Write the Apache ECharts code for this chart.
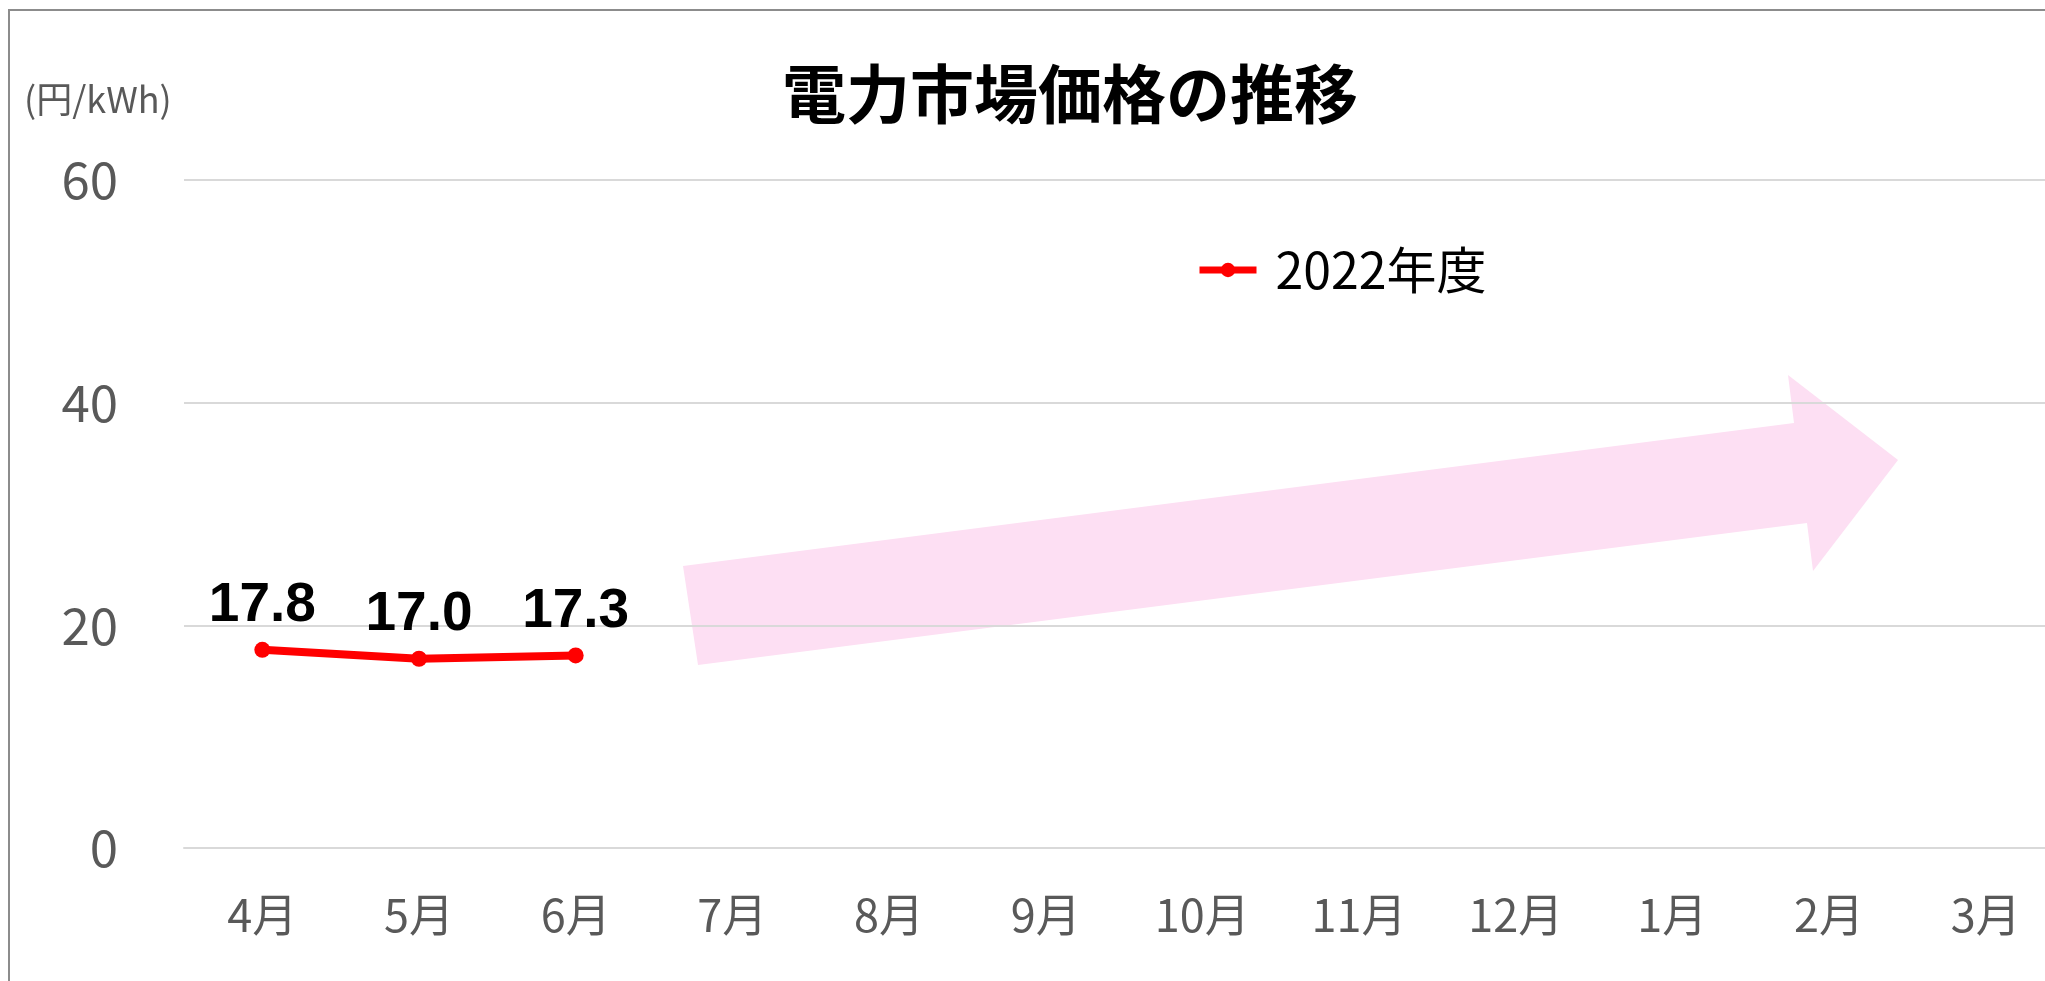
<!DOCTYPE html>
<html>
<head>
  <meta charset="utf-8" />
  <title>電力市場価格の推移</title>
  <script src="https://cdn.jsdelivr.net/npm/echarts@6/dist/echarts.min.js"></script>
  <style>
    html, body {
      margin: 0;
      padding: 0;
      background: #fff;
      overflow: hidden;
    }

    /* グラフは右端で切れているので、窓より広く描く */
    #main {
      width: 2100px;
      height: 981px;
    }
  </style>
</head>
<body>
  <div id="main"></div>
  <script>
    // 月(年度順)
    var months = ['4月', '5月', '6月', '7月', '8月', '9月', '10月', '11月', '12月', '1月', '2月', '3月'];
    // 2022年度 電力市場価格 (円/kWh)
    var prices2022 = [17.8, 17.0, 17.3];
    var seriesName = '2022年度';
    // y軸目盛
    var yMin = 0;
    var yMax = 60;
    var yStep = 20;

    var jp = '"Noto Sans CJK JP", "Noto Sans", sans-serif';

    // 右肩上がりの矢印(装飾)
    var arrowPts = [
      [698, 665], [683, 566], [1794, 423], [1788, 375],
      [1898, 460], [1813, 571], [1807, 523]
    ];

    var myChart = echarts.init(document.getElementById('main'));

    var option = {
      backgroundColor: '#fff',
      animation: false,
      title: [{
        text: '電力市場価格の推移',
        left: 777,
        top: 57,
        textStyle: {
          fontFamily: jp,
          fontSize: 64,
          fontWeight: 'bold',
          color: '#000'
        }
      }, {
        text: '(円/kWh)',
        left: 19,
        top: 76,
        textStyle: {
          fontFamily: jp,
          fontSize: 36,
          fontWeight: 'normal',
          color: '#595959'
        }
      }],
      legend: {
        left: 1191,
        top: 240,
        itemWidth: 57,
        itemHeight: 18,
        lineStyle: { width: 7 },
        textStyle: {
          fontFamily: jp,
          fontSize: 50,
          color: '#000',
          padding: [0, 0, 0, 14]
        },
        data: [seriesName]
      },
      grid: {
        left: 184,
        top: 180,
        width: 1880,
        height: 668
      },
      xAxis: {
        type: 'category',
        data: months,
        boundaryGap: true,
        axisLine: { show: true, lineStyle: { color: '#d9d9d9', width: 2 } },
        axisTick: { show: false },
        axisLabel: {
          margin: 44,
          fontFamily: jp,
          fontSize: 45,
          color: '#595959'
        }
      },
      yAxis: {
        type: 'value',
        min: yMin,
        max: yMax,
        interval: yStep,
        axisLine: { show: false },
        axisTick: { show: false },
        axisLabel: {
          margin: 66,
          fontFamily: jp,
          fontSize: 51,
          color: '#595959'
        },
        splitLine: { lineStyle: { color: '#d9d9d9', width: 2 } }
      },
      graphic: [{
        type: 'rect',
        z: -10,
        silent: true,
        shape: { x: 9, y: 10, width: 2150, height: 1000 },
        style: { fill: 'none', stroke: '#8c8c8c', lineWidth: 2 }
      }, {
        type: 'polygon',
        z: -5,
        silent: true,
        shape: { points: arrowPts },
        style: { fill: '#fddff3' }
      }],
      series: [{
        name: seriesName,
        type: 'line',
        data: prices2022,
        symbol: 'circle',
        symbolSize: 16,
        z: 5,
        lineStyle: { color: '#ff0000', width: 8 },
        itemStyle: { color: '#ff0000' },
        label: {
          show: true,
          position: 'top',
          distance: 8,
          fontFamily: '"Liberation Sans", Arial, sans-serif',
          fontSize: 55,
          fontWeight: 'bold',
          color: '#000',
          formatter: function (p) {
            return p.value.toFixed(1);
          }
        }
      }]
    };
    myChart.setOption(option);
  </script>
</body>
</html>
